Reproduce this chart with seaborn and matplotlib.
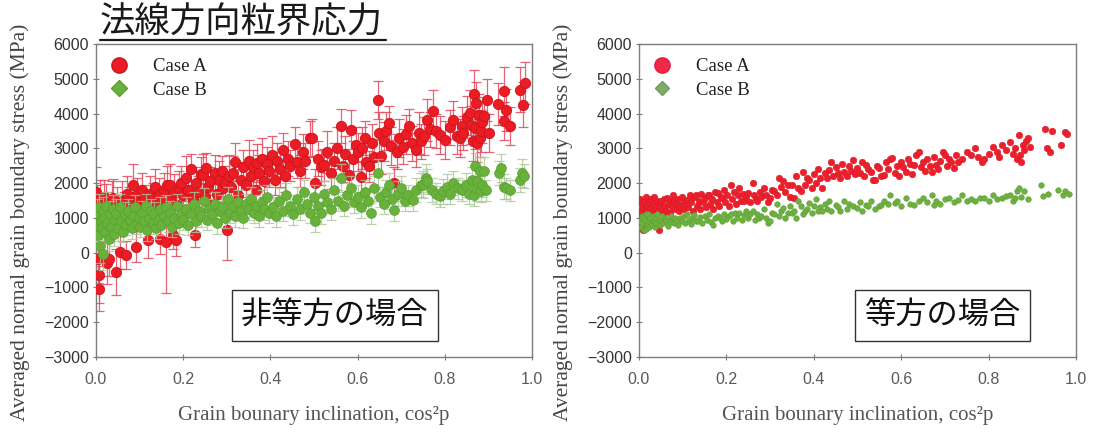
import numpy as np
import pandas as pd
import matplotlib
matplotlib.use("Agg")
import matplotlib.pyplot as plt
from matplotlib.lines import Line2D
from matplotlib.ticker import FormatStrFormatter
import seaborn as sns

# ---------------- anisotropic case (with scatter bars) ----------------
aniso_a_x = [0.001, 0.003, 0.004, 0.006, 0.008, 0.010, 0.012, 0.015, 0.018, 0.020,
             0.022, 0.025, 0.028, 0.030, 0.033, 0.036, 0.040, 0.043, 0.045, 0.048,
             0.052, 0.056, 0.060, 0.064, 0.068, 0.072, 0.076, 0.080, 0.084, 0.088,
             0.092, 0.095, 0.100,
             0.105, 0.110, 0.115, 0.120, 0.125, 0.130, 0.135, 0.140, 0.145, 0.148,
             0.152, 0.156, 0.160, 0.164, 0.169, 0.172, 0.176, 0.180, 0.184, 0.186,
             0.190, 0.195,
             0.200, 0.207, 0.212, 0.218, 0.222, 0.226, 0.230, 0.235, 0.240, 0.245,
             0.250, 0.253, 0.258, 0.262, 0.268, 0.272, 0.278, 0.282, 0.288, 0.292,
             0.296, 0.300,
             0.305, 0.310, 0.314, 0.320, 0.326, 0.332, 0.338, 0.344, 0.350, 0.355,
             0.360, 0.366, 0.370, 0.375, 0.380, 0.386, 0.392, 0.398, 0.404, 0.410,
             0.416, 0.422, 0.428, 0.434, 0.440, 0.446,
             0.457, 0.462, 0.468, 0.474, 0.480, 0.490, 0.496, 0.503, 0.510, 0.516,
             0.522, 0.530, 0.538, 0.545, 0.553, 0.561, 0.566, 0.572, 0.580, 0.584,
             0.590, 0.596,
             0.602, 0.607, 0.610, 0.616, 0.620, 0.626, 0.632, 0.638, 0.646, 0.650,
             0.654, 0.660, 0.666, 0.672, 0.677, 0.684, 0.690, 0.696, 0.704, 0.712,
             0.718, 0.726, 0.734, 0.740, 0.746,
             0.752, 0.760, 0.766, 0.772, 0.780, 0.790, 0.800, 0.812, 0.820, 0.828,
             0.834, 0.840, 0.842, 0.850, 0.857, 0.860, 0.865, 0.868, 0.870, 0.872,
             0.875, 0.878, 0.880, 0.883, 0.886, 0.890, 0.896, 0.902, 0.923, 0.935,
             0.937, 0.940, 0.950, 0.972, 0.980, 0.984]
aniso_a_y = [1750, 1350, -170, -650, -1040, 1500, 1200, 900, 1600, 1100,
             1470, -300, 1300, -170, 1000, 1550, 1560, 1250, -560, 1400,
             1150, 30, 1500, 1300, -70, 1700, 1450, 1200, 1950, 1350,
             170, 1660, 1450,
             1800, 1550, 1270, 355, 1700, 1560, 1900, 1350, 1660, 400,
             1450, 1800, 300, 1950, 1950, 1600, 500, 1750, 355, 1370,
             1850, 2000,
             1650, 2140, 1800, 2400, 1550, 500, 2000, 1750, 2250, 2230,
             1600, 2430, 1900, 2050, 1400, 2300, 1700, 2100, 2340, 1850,
             2000, 650,
             2200, 1900, 2280, 2600, 1650, 2100, 2450, 1950, 2650, 2200,
             2450, 1800, 2570, 2300, 2700, 2050, 2550, 2350, 2800, 2100,
             2650, 2400, 2950, 2200, 2700, 2500,
             3120, 2600, 2350, 2900, 2650, 3290, 3300, 2000, 2700, 2450,
             2520, 2900, 2280, 2650, 3000, 3640, 2480, 2850, 2230, 3540,
             2700, 3100,
             2900, 2190, 3000, 3300, 2600, 2480, 3150, 2750, 4400, 3450,
             2770, 3200, 3500, 3730, 3060, 2000, 2900, 3300, 3050, 3400,
             3640, 3150, 2950, 3440, 3200,
             3350, 3820, 3550, 4070, 3500, 3390, 3250, 3600, 3820, 3350,
             3290, 3640, 3440, 3900, 4020, 3680, 3200, 4550, 3590, 4300,
             3150, 3950, 3290, 3500, 3750, 3930, 4400, 3450, 4280, 4640,
             3790, 4110, 3640, 4690, 4260, 4880]
aniso_a_err = [700, 600, 700, 800, 650, 600, 500, 450, 500, 400,
               500, 600, 450, 500, 400, 500, 550, 400, 670, 500,
               400, 500, 550, 450, 400, 500, 450, 400, 600, 400,
               450, 500, 450,
               500, 400, 400, 500, 500, 450, 500, 400, 500, 450,
               400, 500, 1450, 550, 600, 400, 400, 500, 450, 450,
               500, 500,
               400, 650, 500, 450, 400, 350, 450, 450, 500, 600,
               400, 450, 500, 400, 400, 500, 400, 550, 450, 400,
               500, 850,
               600, 400, 500, 550, 400, 500, 500, 450, 600, 500,
               500, 400, 550, 500, 600, 450, 500, 450, 550, 450,
               500, 500, 500, 450, 500, 450,
               500, 450, 450, 500, 500, 500, 550, 400, 500, 500,
               450, 600, 450, 500, 600, 500, 450, 500, 450, 550,
               500, 500,
               550, 450, 600, 500, 450, 450, 550, 500, 550, 600,
               500, 550, 550, 500, 550, 450, 500, 550, 500, 550,
               500, 500, 500, 600, 500,
               550, 600, 500, 600, 500, 550, 550, 500, 550, 500,
               550, 550, 500, 600, 650, 550, 550, 700, 600, 600,
               550, 600, 550, 600, 600, 550, 600, 550, 600, 700,
               550, 600, 550, 650, 650, 600]

aniso_b_x = [0.001, 0.003, 0.005, 0.007, 0.009, 0.011, 0.013, 0.015, 0.017, 0.019,
             0.021, 0.023, 0.026, 0.029, 0.032, 0.035, 0.038, 0.041, 0.044, 0.047,
             0.050, 0.054, 0.058, 0.062, 0.066, 0.070, 0.074, 0.078, 0.082, 0.086,
             0.090, 0.094, 0.098,
             0.102, 0.106, 0.110, 0.114, 0.118, 0.122, 0.126, 0.130, 0.134, 0.138,
             0.142, 0.146, 0.150, 0.155, 0.160, 0.165, 0.170, 0.175, 0.180, 0.185,
             0.190, 0.195,
             0.200, 0.206, 0.212, 0.218, 0.224, 0.230, 0.236, 0.242, 0.248, 0.254,
             0.260, 0.266, 0.272, 0.278, 0.284, 0.290, 0.296, 0.302, 0.308, 0.314,
             0.320, 0.326, 0.332, 0.338, 0.344, 0.350, 0.356, 0.362, 0.368, 0.374,
             0.380, 0.386, 0.392, 0.398,
             0.405, 0.412, 0.420, 0.428, 0.436, 0.444, 0.452, 0.460, 0.468, 0.476,
             0.484, 0.492, 0.500, 0.503, 0.510, 0.515, 0.522, 0.530, 0.538, 0.546,
             0.554, 0.561, 0.568, 0.576, 0.584, 0.592,
             0.600, 0.608, 0.616, 0.624, 0.630, 0.638, 0.646, 0.652, 0.660, 0.666,
             0.672, 0.678, 0.684, 0.692, 0.700, 0.708, 0.716, 0.727, 0.735, 0.745,
             0.750, 0.757, 0.760, 0.770, 0.780, 0.790, 0.795,
             0.805, 0.812, 0.820, 0.830, 0.840, 0.848, 0.855, 0.862, 0.866, 0.870,
             0.872, 0.875, 0.880, 0.883, 0.886, 0.890, 0.895, 0.925, 0.930, 0.935,
             0.940, 0.950, 0.972, 0.977, 0.982]
aniso_b_y = [800, 1100, 500, 1300, 200, 900, 700, 1200, -50, 1000,
             600, 1350, 850, 400, 1100, 750, 1250, 550, 950, 1150,
             700, 1300, 900, 600, 1100, 800, 1200, 950, 700, 1050,
             1300, 850, 1000,
             750, 1150, 900, 1350, 650, 1000, 1200, 850, 1100, 700,
             950, 1250, 800, 1050, 1300, 900, 1150, 750, 1000, 1350,
             850, 1100,
             950, 1250, 800, 1100, 1400, 900, 1200, 1050, 1500, 950,
             1250, 1100, 1400, 850, 1200, 1300, 1000, 1550, 1150, 1350,
             1050, 1450, 1200, 1000, 1400, 1250, 1550, 1150, 1350, 1050,
             1450, 1250, 1600, 1150,
             1300, 1050, 1500, 1200, 1650, 1350, 1100, 1550, 1250, 1750,
             1400, 1150, 1600, 900, 1350, 1130, 1700, 1450, 1250, 1800,
             1500, 2140, 1350, 1650, 1850, 1450,
             1600, 1300, 1750, 1500, 1130, 1850, 2300, 1600, 1400, 1750,
             1950, 1550, 1220, 1700, 1850, 1500, 1650, 1510, 1800, 1950,
             1960, 2140, 2050, 1800, 1700, 1620, 1760,
             1900, 1700, 2000, 1850, 1800, 1950, 1700, 2100, 1650, 2480,
             1850, 2050, 2350, 1760, 1950, 2340, 1800, 2300, 2430, 1900,
             1850, 1800, 2090, 2280, 2200]
aniso_b_err = [500, 450, 400, 400, 500, 400, 350, 400, 450, 400,
               350, 400, 350, 350, 400, 350, 400, 350, 350, 400,
               350, 400, 350, 300, 350, 300, 350, 300, 300, 350,
               350, 300, 350,
               300, 350, 300, 350, 300, 300, 350, 300, 350, 300,
               300, 350, 300, 300, 350, 300, 350, 300, 300, 350,
               300, 300,
               300, 350, 300, 300, 350, 300, 300, 300, 350, 300,
               300, 300, 350, 300, 300, 350, 300, 350, 300, 300,
               300, 350, 300, 300, 300, 300, 350, 300, 300, 300,
               350, 300, 350, 300,
               300, 300, 350, 300, 350, 300, 300, 350, 300, 350,
               300, 300, 350, 300, 300, 300, 350, 300, 300, 350,
               300, 400, 300, 350, 350, 300,
               350, 300, 350, 300, 300, 350, 400, 300, 300, 350,
               350, 300, 300, 350, 350, 300, 300, 300, 350, 350,
               400, 400, 350, 350, 300, 300, 350,
               350, 300, 350, 300, 300, 350, 300, 350, 300, 400,
               350, 350, 400, 300, 350, 400, 300, 350, 400, 350,
               300, 300, 350, 400, 350]

# ---------------- isotropic case ----------------
iso_a_x = [0.002, 0.004, 0.005, 0.006, 0.008, 0.009, 0.010, 0.012, 0.013, 0.015,
           0.016, 0.018, 0.020, 0.021, 0.023, 0.025, 0.027, 0.029, 0.031, 0.033,
           0.035, 0.037, 0.039, 0.041, 0.043, 0.045, 0.047, 0.050, 0.052, 0.055,
           0.058, 0.060, 0.063, 0.065, 0.068, 0.070, 0.073, 0.076, 0.078, 0.080,
           0.083, 0.086, 0.089, 0.092, 0.095, 0.098, 0.100,
           0.103, 0.106, 0.110, 0.113, 0.116, 0.120, 0.123, 0.127, 0.130, 0.133,
           0.137, 0.140, 0.143, 0.147, 0.150, 0.153, 0.157, 0.160, 0.163, 0.167,
           0.170, 0.174, 0.178, 0.180, 0.184, 0.188, 0.190, 0.194, 0.198, 0.202,
           0.206, 0.210, 0.214, 0.218, 0.222, 0.226, 0.230, 0.234, 0.238, 0.240,
           0.245, 0.250, 0.255, 0.260, 0.264, 0.268, 0.270, 0.276, 0.280, 0.285,
           0.290, 0.295, 0.300,
           0.305, 0.310, 0.315, 0.320, 0.325, 0.330, 0.335, 0.340, 0.345, 0.350,
           0.355, 0.360, 0.365, 0.370, 0.375, 0.380, 0.385, 0.390, 0.395, 0.400,
           0.405, 0.410, 0.415, 0.420, 0.425, 0.430, 0.435, 0.440, 0.445, 0.450,
           0.455, 0.460, 0.465, 0.470, 0.475, 0.480, 0.485, 0.490, 0.495, 0.500,
           0.505, 0.510, 0.515, 0.520, 0.525, 0.530, 0.535, 0.540, 0.545, 0.550,
           0.555, 0.560, 0.565, 0.570, 0.575, 0.580, 0.585, 0.590, 0.595, 0.600,
           0.605, 0.610, 0.615, 0.620, 0.625, 0.630, 0.635, 0.640, 0.645, 0.650,
           0.655, 0.660, 0.665, 0.670, 0.675, 0.680, 0.685, 0.690, 0.695, 0.700,
           0.705, 0.710, 0.715, 0.720, 0.725, 0.730, 0.740, 0.750, 0.760, 0.770,
           0.775, 0.785, 0.790, 0.800, 0.810, 0.820, 0.825, 0.830, 0.840, 0.850,
           0.855, 0.860, 0.865, 0.870, 0.872, 0.875, 0.878, 0.880, 0.885, 0.890,
           0.895, 0.930, 0.934, 0.940, 0.945, 0.966, 0.976, 0.980]
iso_a_y = [1550, 1200, 800, 1400, 1050, 650, 1300, 1500, 900, 1190,
           1600, 1350, 800, 1100, 1450, 1250, 1550, 1000, 1400, 1200,
           1600, 1300, 1100, 1500, 1200, 650, 1400, 1480, 1250, 1100,
           1550, 1350, 1200, 1570, 1400, 1150, 1500, 1300, 1650, 1480,
           1250, 1400, 1550, 1200, 1350, 1600, 1390,
           1250, 1500, 1520, 1300, 1650, 1450, 1200, 1600, 1670, 1350,
           1500, 1250, 1700, 1450, 1570, 1300, 1650, 1670, 1400, 1550,
           1250, 1750, 1450, 1710, 1350, 1600, 1570, 1800, 1450, 1650,
           1350, 1950, 1550, 1750, 1400, 1650, 1860, 1500, 1700, 1480,
           1600, 1710, 1450, 2000, 1650, 1550, 1480, 1750, 1600, 1860,
           1650, 1450, 1570,
           1800, 1760, 1650, 2140, 1900, 2050, 1750, 1950, 1600, 1950,
           1570, 2200, 1850, 1760, 2330, 1950, 2150, 2100, 1860, 2250,
           2000, 2400, 2150, 1860, 2300, 2140, 2380, 2620, 2200, 2450,
           2300, 2140, 2550, 2330, 2200, 2500, 2350, 2670, 2250, 2430,
           2300, 2600, 2200, 2520, 2400, 2330, 2100, 2100, 2500, 2430,
           2200, 2240, 2600, 2400, 2700, 2710, 2300, 2500, 2200, 2620,
           2450, 2330, 2700, 2550, 2250, 2520, 2800, 2900, 2450, 2620,
           2350, 2700, 2500, 2330, 2750, 2520, 2400, 2650, 2900, 2810,
           2500, 2700, 2600, 2430, 2800, 2620, 2700, 2900, 2810, 3000,
           2750, 2620, 2700, 2850, 3050, 2900, 2750, 3100, 2950, 3190,
           2850, 3000, 2700, 3380, 2810, 2620, 3100, 2950, 3200, 3290,
           3050, 3570, 3000, 2900, 3500, 3100, 3480, 3400]

iso_b_x = [0.002, 0.004, 0.006, 0.008, 0.010, 0.012, 0.014, 0.015, 0.017, 0.019,
           0.020, 0.022, 0.024, 0.026, 0.028, 0.030, 0.032, 0.034, 0.036, 0.038,
           0.040, 0.042, 0.045, 0.048, 0.050, 0.053, 0.056, 0.060, 0.063, 0.066,
           0.070, 0.073, 0.076, 0.080, 0.083, 0.086, 0.090, 0.095, 0.098,
           0.102, 0.106, 0.110, 0.114, 0.118, 0.122, 0.126, 0.130, 0.135, 0.140,
           0.145, 0.150, 0.155, 0.160, 0.165, 0.170, 0.175, 0.180, 0.185, 0.190,
           0.195, 0.200, 0.205, 0.210, 0.215, 0.220, 0.225, 0.230, 0.235, 0.240,
           0.245, 0.250, 0.255, 0.260, 0.265, 0.270, 0.275, 0.280, 0.285, 0.290,
           0.295, 0.300, 0.305, 0.310, 0.315, 0.320, 0.325, 0.330, 0.335, 0.340,
           0.345, 0.350, 0.355, 0.360, 0.365, 0.370, 0.375, 0.380, 0.385, 0.390,
           0.395, 0.400,
           0.405, 0.410, 0.415, 0.420, 0.425, 0.430, 0.435, 0.440, 0.450, 0.455,
           0.460, 0.470, 0.475, 0.480, 0.490, 0.500, 0.505, 0.510, 0.520, 0.525,
           0.530, 0.540, 0.550, 0.555, 0.560, 0.570, 0.575, 0.585, 0.590, 0.600,
           0.610, 0.620, 0.630, 0.640, 0.650, 0.660, 0.670, 0.675, 0.680, 0.690,
           0.700, 0.710, 0.720, 0.730, 0.740, 0.750, 0.760, 0.770, 0.780, 0.790,
           0.800, 0.810, 0.820, 0.830, 0.840, 0.850, 0.855, 0.860, 0.865, 0.870,
           0.875, 0.880, 0.890, 0.920, 0.925, 0.935, 0.960, 0.970, 0.976, 0.985]
iso_b_y = [900, 750, 1050, 850, 1000, 650, 950, 670, 1100, 800,
           1100, 900, 750, 1000, 850, 810, 1050, 900, 750, 1000,
           850, 1100, 900, 800, 950, 1050, 850, 1000, 900, 780,
           950, 1050, 880, 860, 1000, 920, 800, 1000, 900,
           1050, 850, 1100, 950, 820, 1000, 1080, 900, 900, 1020,
           850, 1050, 950, 1100, 880, 810, 1000, 1050, 1000, 920,
           1120, 980, 1050, 1100, 900, 1150, 1000, 1140, 950, 1080,
           1200, 1000, 1100, 1190, 950, 1120, 1000, 1050, 1250, 1000,
           850, 900, 1150, 1100, 1400, 1050, 1200, 1290, 1000, 1150,
           1350, 1140, 1190, 1000, 1480, 1330, 1100, 1190, 1250, 1430,
           1150, 1330,
           1550, 1190, 1300, 1190, 1400, 1250, 1480, 1200, 1380, 1300,
           1200, 1480, 1250, 1400, 1330, 1290, 1450, 1200, 1380, 1330,
           1480, 1250, 1330, 1380, 1500, 1400, 1670, 1430, 1480, 1350,
           1570, 1400, 1380, 1500, 1570, 1450, 1670, 1380, 1480, 1400,
           1550, 1570, 1450, 1520, 1670, 1480, 1550, 1480, 1570, 1570,
           1500, 1650, 1550, 1570, 1620, 1670, 1500, 1570, 1760, 1860,
           1600, 1760, 1550, 1950, 1620, 1700, 1810, 1650, 1760, 1700]

case_labels = ["Case A", "Case B"]
x_ticks = [0.0, 0.2, 0.4, 0.6, 0.8, 1.0]
y_ticks = [-3000, -2000, -1000, 0, 1000, 2000, 3000, 4000, 5000, 6000]
panel_notes = ["非等方の場合", "等方の場合"]
title_text = "法線方向粒界応力"
x_label = "Grain bounary inclination, cos²p"
y_label = "Averaged normal grain boundary stress (MPa)"

RED = "#ec1c24"
RED_EDGE = "#c9141c"
RED_BAR = "#e4485a"
GREEN = "#68b23c"
GREEN_EDGE = "#56a02e"
GREEN_BAR = "#a9c79a"

sns.set_theme(style="white")
plt.rcParams["font.family"] = ["Liberation Sans", "DejaVu Sans"]

SERIF = ["Liberation Serif", "DejaVu Serif"]
CJK = ["Noto Sans CJK JP", "DejaVu Sans"]

fig = plt.figure(figsize=(10.93, 4.32), dpi=100)
fig.patch.set_facecolor("white")
ax1 = fig.add_axes([0.0878, 0.1736, 0.3989, 0.7245])
ax2 = fig.add_axes([0.5846, 0.1736, 0.3998, 0.7245])

aniso_a = pd.DataFrame({"x": aniso_a_x, "y": aniso_a_y, "err": aniso_a_err})
aniso_b = pd.DataFrame({"x": aniso_b_x, "y": aniso_b_y, "err": aniso_b_err})
iso_a = pd.DataFrame({"x": iso_a_x, "y": iso_a_y})
iso_b = pd.DataFrame({"x": iso_b_x, "y": iso_b_y})

# anisotropic panel: scatter bars first, then markers
ax1.errorbar(aniso_a["x"], aniso_a["y"], yerr=aniso_a["err"], fmt="none",
             ecolor=RED_BAR, elinewidth=0.9, capsize=3.8, capthick=0.9,
             alpha=0.85, zorder=2)
sns.scatterplot(data=aniso_a, x="x", y="y", ax=ax1, color=RED, s=55,
                edgecolor=RED_EDGE, linewidth=0.6, legend=False, zorder=3)
ax1.errorbar(aniso_b["x"], aniso_b["y"], yerr=aniso_b["err"], fmt="none",
             ecolor=GREEN_BAR, elinewidth=0.9, capsize=3.5, capthick=0.9,
             alpha=0.8, zorder=4)
sns.scatterplot(data=aniso_b, x="x", y="y", ax=ax1, color=GREEN, s=50,
                edgecolor=GREEN_EDGE, linewidth=0.5, legend=False, zorder=5)

# isotropic panel: markers only
sns.scatterplot(data=iso_a, x="x", y="y", ax=ax2, color="#ee1f2c", s=22,
                edgecolor="#d41a24", linewidth=0.4, legend=False, zorder=3)
sns.scatterplot(data=iso_b, x="x", y="y", ax=ax2, color="#6eb140", s=16,
                edgecolor="#5c9f34", linewidth=0.4, legend=False, zorder=4)


def style_axes(ax):
    ax.set_xlim(0, 1)
    ax.set_ylim(-3000, 6000)
    ax.set_xticks(x_ticks)
    ax.set_yticks(y_ticks)
    ax.xaxis.set_major_formatter(FormatStrFormatter("%.1f"))
    for sp in ax.spines.values():
        sp.set_visible(True)
        sp.set_color("#7d7d7d")
        sp.set_linewidth(1.0)
    ax.tick_params(direction="inout", length=4, width=0.8, color="#7d7d7d",
                   labelsize=11.5, labelcolor="#333333", left=True, bottom=True)
    ax.tick_params(axis="x", labelcolor="#5a5a5a", pad=9)
    ax.tick_params(axis="y", pad=3)
    ax.set_xlabel(x_label, fontfamily=SERIF, fontsize=15, color="#555555")
    ax.set_ylabel(y_label, fontfamily=SERIF, fontsize=15.5, color="#444444")
    ax.yaxis.set_label_coords(-0.152, 0.43)
    ax.xaxis.set_label_coords(0.5, -0.158)
    ax.grid(False)
    ax.set_facecolor("white")


style_axes(ax1)
style_axes(ax2)

# legends
handles_aniso = [
    Line2D([], [], marker="o", ls="none", ms=11, mfc=RED, mec=RED_EDGE, label=case_labels[0]),
    Line2D([], [], marker="D", ls="none", ms=8, mfc=GREEN, mec=GREEN_EDGE, label=case_labels[1]),
]
handles_iso = [
    Line2D([], [], marker="o", ls="none", ms=11, mfc="#ee2a48", mec="#e01c3a", label=case_labels[0]),
    Line2D([], [], marker="D", ls="none", ms=7.5, mfc="#82aa6a", mec="#6f9a58", label=case_labels[1]),
]
for ax, hs in ((ax1, handles_aniso), (ax2, handles_iso)):
    leg = ax.legend(handles=hs, loc="upper left", bbox_to_anchor=(0.0, 1.0),
                    frameon=False, prop={"family": SERIF, "size": 13.5},
                    borderaxespad=0.2, borderpad=0.55, handlelength=1.0,
                    handletextpad=1.3, labelspacing=0.35)
    for t in leg.get_texts():
        t.set_color("#222222")

# boxed notes inside each panel
box_style = dict(boxstyle="square,pad=0.3", facecolor="white",
                 edgecolor="#333333", linewidth=1.0)
ax1.text(0.548, 0.132, panel_notes[0], transform=ax1.transAxes, ha="center",
         va="center", fontfamily=CJK, fontsize=22.5, color="#111111",
         bbox=box_style, zorder=10)
ax2.text(0.695, 0.132, panel_notes[1], transform=ax2.transAxes, ha="center",
         va="center", fontfamily=CJK, fontsize=22.5, color="#111111",
         bbox=box_style, zorder=10)

# underlined heading
fig.text(100 / 1093, 1 - 22 / 432, title_text, ha="left", va="center",
         fontfamily=CJK, fontsize=25.5, color="#1a1a1a")
fig.add_artist(Line2D([100 / 1093, 386 / 1093], [1 - 40 / 432, 1 - 40 / 432],
                      color="#1a1a1a", linewidth=1.6))

fig.savefig("out.png", dpi=100, facecolor="white")
